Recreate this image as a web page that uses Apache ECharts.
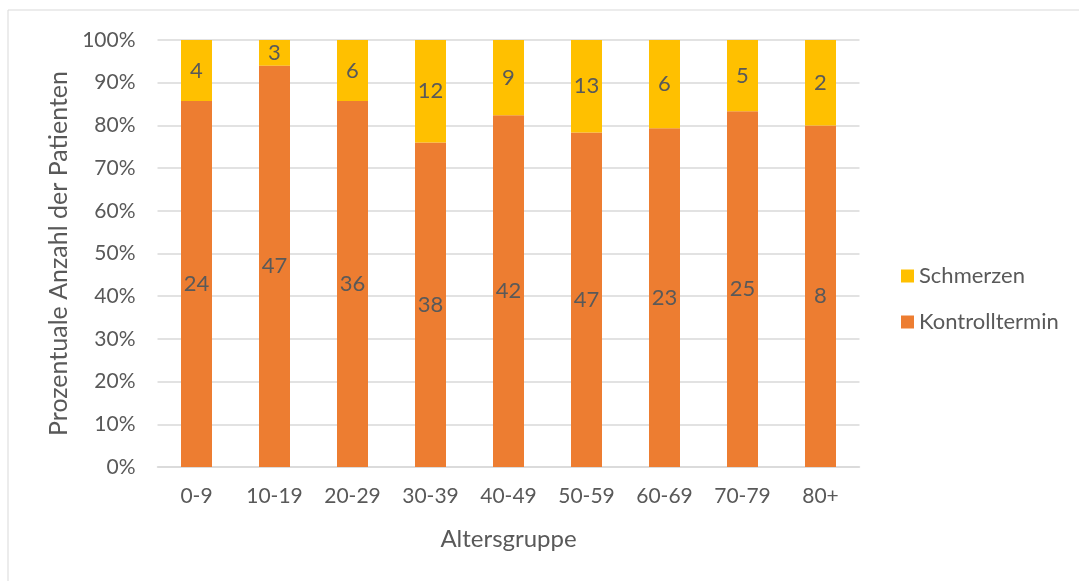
<!DOCTYPE html>
<html>
<head>
<meta charset="utf-8">
<script src="https://cdn.jsdelivr.net/npm/echarts@6/dist/echarts.min.js"></script>
<style>
  html, body { margin: 0; padding: 0; background: #fff; }
  #chart { width: 1079px; height: 581px; }
</style>
</head>
<body>
<div id="chart"></div>
<script>
// Age groups and patient counts per visit reason
const categories = ['0-9', '10-19', '20-29', '30-39', '40-49', '50-59', '60-69', '70-79', '80+'];
const kontrolltermin = [24, 47, 36, 38, 42, 47, 23, 25, 8];
const schmerzen = [4, 3, 6, 12, 9, 13, 6, 5, 2];
const yTicks = [0, 10, 20, 30, 40, 50, 60, 70, 80, 90, 100];

const totals = categories.map((_, i) => kontrolltermin[i] + schmerzen[i]);
// share of each group in percent, label keeps the raw count
const toShare = (arr) => arr.map((v, i) => ({ value: v / totals[i] * 100, count: v }));

const textColor = '#595959';
const font = 'Lato, "Open Sans", sans-serif';

const chart = echarts.init(document.getElementById('chart'), null, { renderer: 'canvas' });
const labelOpt = {
  show: true,
  position: 'inside',
  color: textColor,
  fontSize: 22,
  fontFamily: font,
  formatter: (p) => p.data.count
};

chart.setOption({
  animation: false,
  backgroundColor: '#fff',
  graphic: [{
    type: 'rect',
    shape: { x: 8, y: 10, width: 1200, height: 700 },
    style: { fill: 'none', stroke: '#d9d9d9', lineWidth: 1 },
    silent: true
  }],
  grid: { left: 157.5, right: 219.5, top: 40, bottom: 114, containLabel: false },
  legend: {
    orient: 'vertical',
    left: 896,
    top: 260,
    itemWidth: 13,
    itemHeight: 13,
    itemGap: 24,
    icon: 'rect',
    data: ['Schmerzen', 'Kontrolltermin'],
    textStyle: { color: textColor, fontSize: 22, fontFamily: font, padding: [0, 0, 0, 0] }
  },
  xAxis: {
    type: 'category',
    data: categories,
    name: 'Altersgruppe',
    nameLocation: 'middle',
    nameGap: 60,
    nameTextStyle: { color: textColor, fontSize: 24, fontFamily: font },
    axisLine: { show: true, lineStyle: { color: '#d9d9d9', width: 1.5 } },
    axisTick: { show: false },
    axisLabel: { color: textColor, fontSize: 21, fontFamily: font, margin: 19 }
  },
  yAxis: {
    type: 'value',
    min: 0,
    max: 100,
    interval: 10,
    name: 'Prozentuale Anzahl der Patienten',
    nameLocation: 'middle',
    nameGap: 86,
    nameTextStyle: { color: textColor, fontSize: 25, fontFamily: font },
    axisLine: { show: false },
    axisTick: { show: false },
    splitLine: { lineStyle: { color: '#d9d9d9', width: 1.5 } },
    axisLabel: {
      color: textColor, fontSize: 21, fontFamily: font, margin: 22,
      formatter: (v) => yTicks.includes(v) ? v + '%' : ''
    }
  },
  series: [
    {
      name: 'Kontrolltermin',
      type: 'bar',
      stack: 'total',
      barWidth: 31,
      itemStyle: { color: '#ED7D31' },
      label: labelOpt,
      data: toShare(kontrolltermin)
    },
    {
      name: 'Schmerzen',
      type: 'bar',
      stack: 'total',
      barWidth: 31,
      itemStyle: { color: '#FFC000' },
      label: labelOpt,
      data: toShare(schmerzen)
    }
  ]
});
</script>
</body>
</html>
